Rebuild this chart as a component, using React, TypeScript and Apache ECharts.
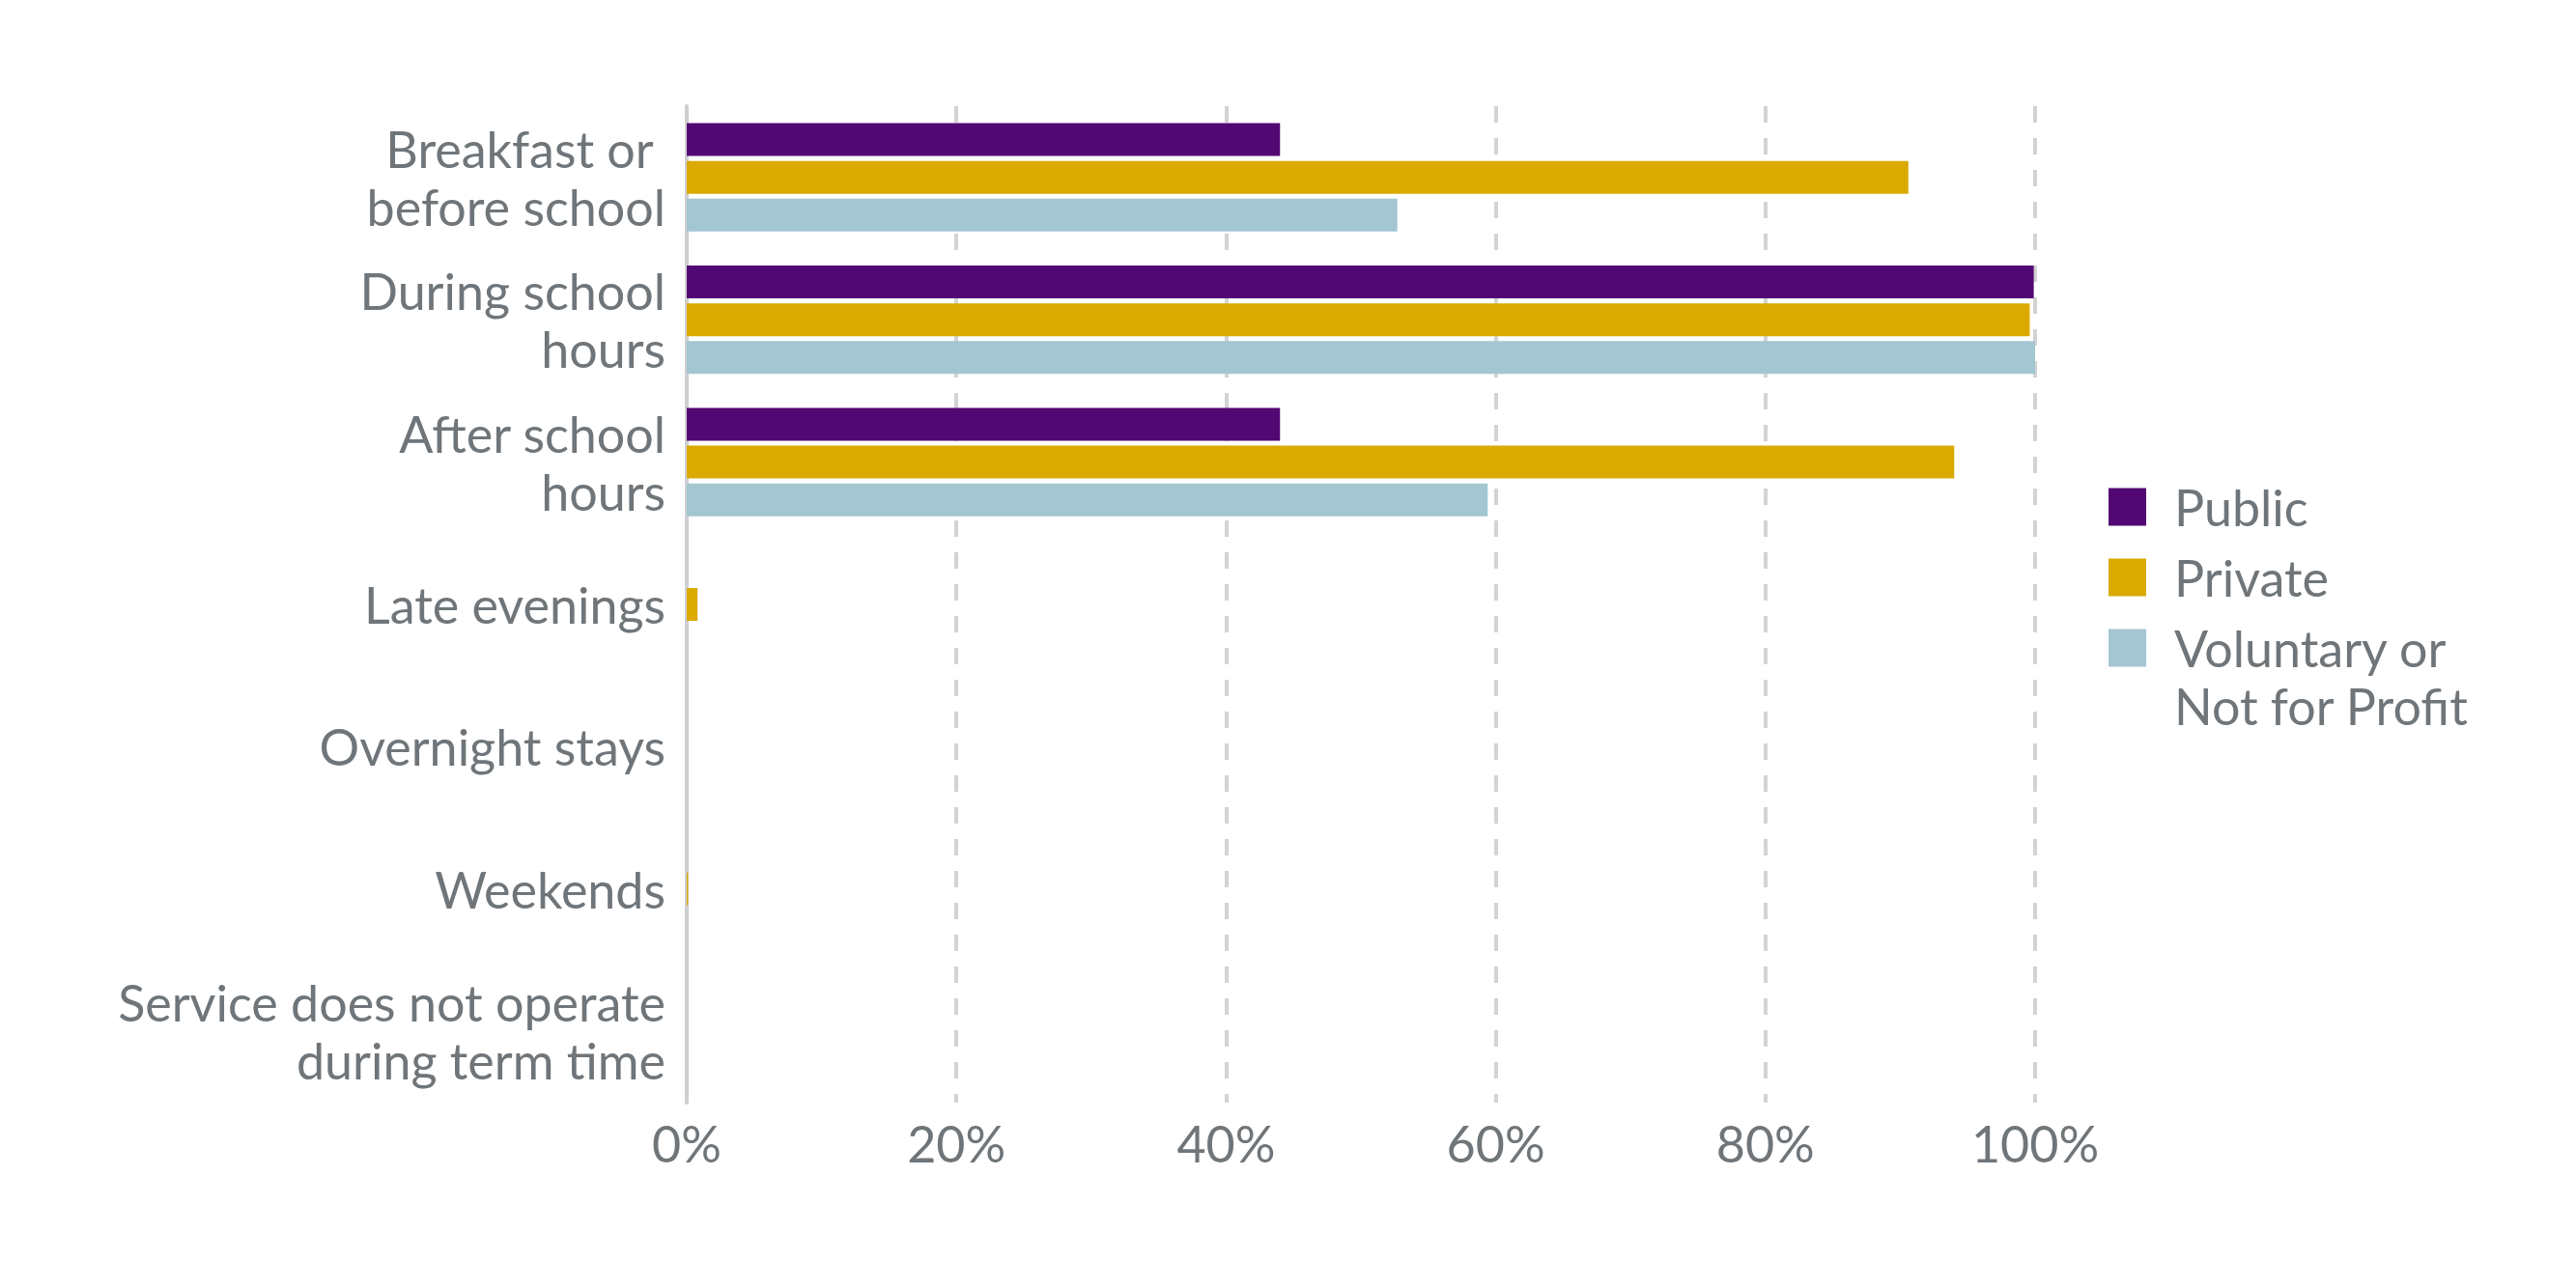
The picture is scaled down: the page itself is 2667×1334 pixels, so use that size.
import React, { useEffect, useRef } from "react";
import * as echarts from "echarts";

const categories = [
  "Breakfast or \nbefore school",
  "During school\nhours",
  "After school\nhours",
  "Late evenings",
  "Overnight stays",
  "Weekends",
  "Service does not operate\nduring term time",
];

const seriesNames = ["Public", "Private", "Voluntary or Not for Profit"];
const publicValues = [44.0, 99.9, 44.0, 0, 0, 0, 0];
const privateValues = [90.6, 99.6, 94.0, 0.8, 0, 0.1, 0];
const voluntaryValues = [52.7, 100, 59.4, 0, 0, 0, 0];
const xTicks = [0, 20, 40, 60, 80, 100];

const colors = ["#520873", "#DAAA00", "#A3C6D2"];
const textColor = "#6F7579";
const fontFamily = "Lato, 'Open Sans', sans-serif";

export default function App() {
  const ref = useRef<HTMLDivElement>(null);

  useEffect(() => {
    if (!ref.current) return;
    const chart = echarts.init(ref.current, undefined, { renderer: "svg" });
    const valuesList = [publicValues, privateValues, voluntaryValues];
    const legendText = {
      color: textColor,
      fontSize: 52,
      lineHeight: 60,
      fontFamily,
      padding: [0, 0, 0, 24],
    };
    chart.setOption({
      animation: false,
      backgroundColor: "#ffffff",
      color: colors,
      grid: { left: 711, right: 560, top: 110, bottom: 192, containLabel: false },
      legend: [
        {
          orient: "vertical",
          left: 2178,
          top: 490,
          itemWidth: 39,
          itemHeight: 39,
          itemGap: 13,
          icon: "rect",
          selectedMode: false,
          data: [seriesNames[0], seriesNames[1]],
          textStyle: legendText,
        },
        {
          orient: "vertical",
          left: 2178,
          top: 576,
          itemWidth: 39,
          itemHeight: 39,
          icon: "rect",
          selectedMode: false,
          data: [seriesNames[2]],
          formatter: () => " \nVoluntary or\nNot for Profit",
          textStyle: legendText,
        },
      ],
      xAxis: {
        type: "value",
        min: xTicks[0],
        max: xTicks[xTicks.length - 1],
        interval: 20,
        axisLine: { show: false },
        axisTick: { show: false },
        axisLabel: {
          formatter: "{value}%",
          color: textColor,
          fontSize: 52,
          fontFamily,
          margin: 16,
        },
        splitLine: {
          show: true,
          lineStyle: { color: "#D3D3D3", width: 4, type: [17, 16] },
        },
      },
      yAxis: {
        type: "category",
        data: categories,
        inverse: true,
        axisLine: { show: true, lineStyle: { color: "#CFCFCF", width: 4 } },
        axisTick: { show: false },
        axisLabel: {
          color: textColor,
          fontSize: 52,
          lineHeight: 60,
          fontFamily,
          margin: 22,
          align: "right",
        },
        splitLine: { show: false },
      },
      series: seriesNames.map((name, i) => ({
        name,
        type: "bar",
        data: valuesList[i],
        barWidth: 34,
        barGap: "15%",
        itemStyle: { color: colors[i] },
      })),
    });
    return () => chart.dispose();
  }, []);

  return (
    <div
      ref={ref}
      style={{ position: "fixed", left: 0, top: 0, width: 2667, height: 1334 }}
    />
  );
}
